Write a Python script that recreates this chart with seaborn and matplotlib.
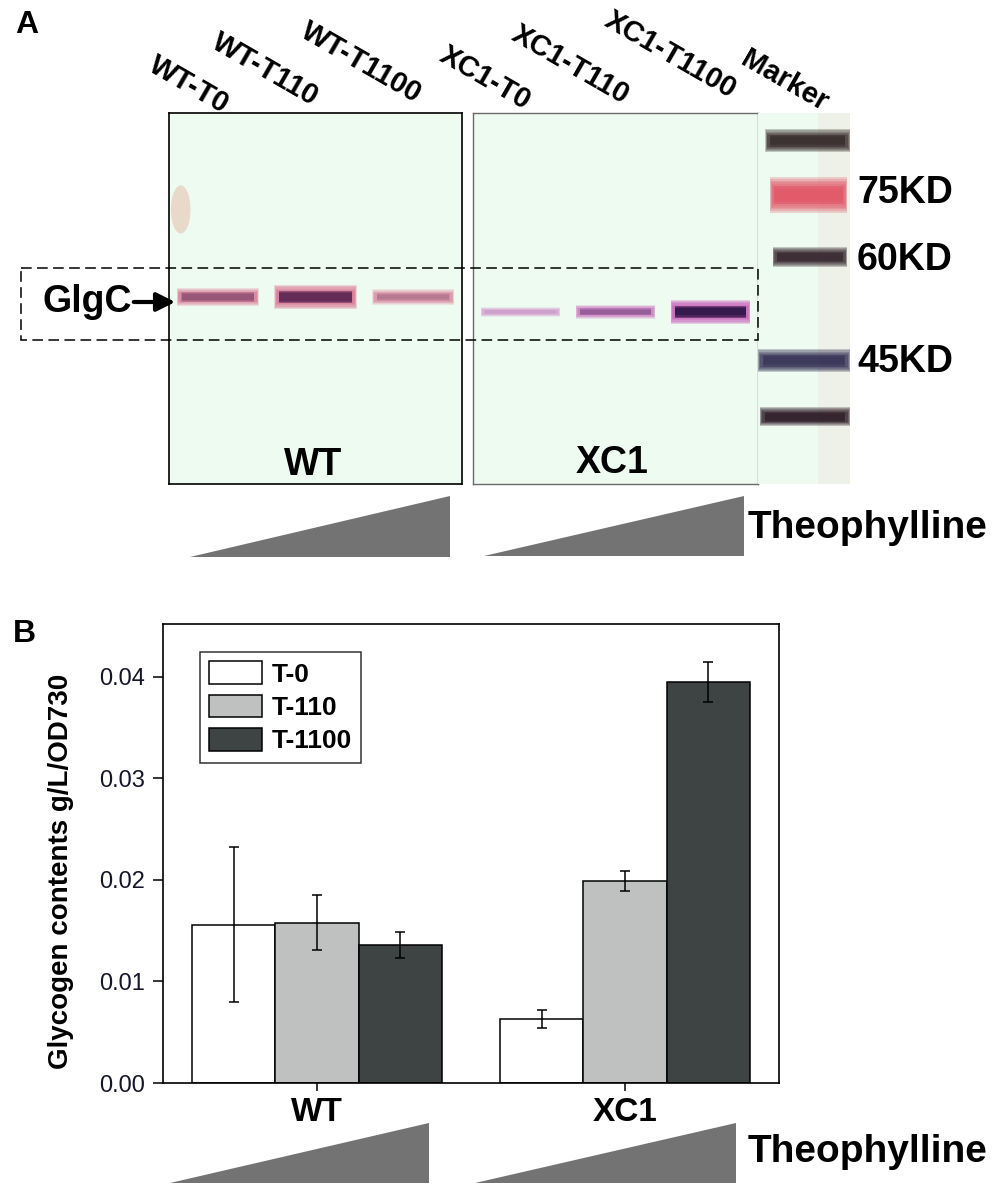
import numpy as np
import pandas as pd
import matplotlib
matplotlib.use("Agg")
import matplotlib.pyplot as plt
import seaborn as sns
from matplotlib.patches import Rectangle, Polygon, Patch, Ellipse
from matplotlib.container import BarContainer

# ---------------- data ----------------
groups = ["WT", "XC1"]
treatments = ["T-0", "T-110", "T-1100"]
wt_means = [0.0156, 0.0158, 0.0136]
wt_errs = [0.0076, 0.0027, 0.0013]
xc1_means = [0.0063, 0.0199, 0.0395]
xc1_errs = [0.0009, 0.0010, 0.0020]
y_ticks = [0.00, 0.01, 0.02, 0.03, 0.04]

wt_lane_labels = ["WT-T0", "WT-T110", "WT-T1100"]
xc1_lane_labels = ["XC1-T0", "XC1-T110", "XC1-T1100"]
wt_glgc_signal = [0.55, 1.0, 0.35]
xc1_glgc_signal = [0.12, 0.40, 1.0]
glgc_migration = {"WT": 0.496, "XC1": 0.536}
marker_labels = ["", "75KD", "60KD", "45KD", ""]
marker_migration = [0.075, 0.221, 0.388, 0.668, 0.819]

# ---------------- style ----------------
sns.set_theme(style="white")
plt.rcParams["font.family"] = ["Liberation Sans", "DejaVu Sans"]
for key in ["text.color", "axes.labelcolor", "xtick.color", "ytick.color"]:
    plt.rcParams[key] = "black"
bar_colors = ["#ffffff", "#bfc1c1", "#3e4343"]
W, H = 1000, 1194
fig = plt.figure(figsize=(W / 100, H / 100), dpi=100)


def rect(x0, y0, x1, y1):
    return [x0 / W, 1 - y1 / H, (x1 - x0) / W, (y1 - y0) / H]


# ---------------- panel B: bar chart ----------------
df = pd.DataFrame({
    "group": np.repeat(groups, len(treatments)),
    "treatment": treatments * len(groups),
    "value": wt_means + xc1_means,
    "err": wt_errs + xc1_errs,
})

axb = fig.add_axes(rect(163, 624, 779, 1083))
sns.barplot(data=df, x="group", y="value", hue="treatment", order=groups,
            hue_order=treatments, palette=dict(zip(treatments, bar_colors)),
            width=0.81, errorbar=None, edgecolor="black", linewidth=1.1,
            saturation=1, legend=False, ax=axb)

bw = 0.81 / len(treatments)
bars = [b for c in list(axb.containers) if isinstance(c, BarContainer) for b in c]
for bar in bars:
    cx = bar.get_x() + bar.get_width() / 2
    gi = int(round(cx))
    ti = int(round((cx - gi) / bw)) + 1
    row = df[(df.group == groups[gi]) & (df.treatment == treatments[ti])].iloc[0]
    axb.errorbar(cx, row.value, yerr=row.err, fmt="none", ecolor="black",
                 elinewidth=1.1, capsize=3.3, capthick=1.1, zorder=5)

axb.set_xlim(-0.5, 1.5)
axb.set_ylim(0, 0.0452)
axb.set_yticks(y_ticks)
axb.set_yticklabels([f"{v:.2f}" for v in y_ticks], fontsize=17, color="#15152a")
axb.set_xticks(range(len(groups)))
axb.set_xticklabels(groups, fontsize=24, fontweight="bold")
axb.set_xlabel("")
axb.set_ylabel("Glycogen contents g/L/OD730", fontsize=20, fontweight="bold")
axb.yaxis.set_label_coords(-0.1445, 0.462)
axb.tick_params(axis="y", direction="out", length=7, width=1.1, pad=6, left=True)
axb.tick_params(axis="x", direction="out", length=6, width=1.1, pad=4, bottom=True)
for sp in axb.spines.values():
    sp.set_visible(True)
    sp.set_color("black")
    sp.set_linewidth(1.2)

handles = [Patch(facecolor=c, edgecolor="black", linewidth=1.1) for c in bar_colors]
leg = axb.legend(handles, treatments, loc="upper left",
                 bbox_to_anchor=(200 / W, 1 - 652 / H), bbox_transform=fig.transFigure,
                 borderaxespad=0, frameon=True, fancybox=False, edgecolor="black",
                 prop=dict(weight="bold", size=19), handlelength=2.0,
                 handleheight=0.95, handletextpad=0.35, labelspacing=0.3,
                 borderpad=0.35)
leg.get_frame().set_linewidth(1.1)

# ---------------- panel A: blot ----------------
blot_bg = "#eefbf1"
ax_wt = fig.add_axes(rect(169, 113, 462, 484))
ax_xc = fig.add_axes(rect(473, 113, 758, 484))
ax_mk = fig.add_axes(rect(758, 113, 850, 484))
for ax in (ax_wt, ax_xc, ax_mk):
    ax.set_facecolor(blot_bg)
    ax.set_xticks([])
    ax.set_yticks([])
    ax.set_ylim(1, 0)
ax_wt.set_xlim(-0.5, 2.5)
ax_xc.set_xlim(-0.5, 2.5)
ax_mk.set_xlim(0, 1)
for sp in ax_wt.spines.values():
    sp.set_color("black"); sp.set_linewidth(1.2); sp.set_visible(True)
for sp in ax_xc.spines.values():
    sp.set_color("#6a6a6a"); sp.set_linewidth(1.0); sp.set_visible(True)
for sp in ax_mk.spines.values():
    sp.set_visible(False)


def draw_band(ax, xc, y, w, h, halo, core, s):
    a_halo = min(1.0, 0.25 + s)
    for k in [1.0, 0.9, 0.8, 0.7, 0.6, 0.5]:
        ww = w * (0.9 + 0.1 * k)
        ax.add_patch(Rectangle((xc - ww / 2, y - h * k / 2), ww, h * k,
                               facecolor=halo, alpha=0.26 * a_halo, lw=0))
    for k in [0.5, 0.4, 0.3]:
        ww = w * (0.86 + 0.06 * k)
        ax.add_patch(Rectangle((xc - ww / 2, y - h * k / 2), ww, h * k,
                               facecolor=core, alpha=0.5 * s ** 1.5, lw=0))


# faint smudge on WT membrane (top-left)
ax_wt.add_patch(Ellipse((-0.38, 0.26), 0.2, 0.13, facecolor="#e0a890", alpha=0.4, lw=0))

for i, s in enumerate(wt_glgc_signal):
    draw_band(ax_wt, i, glgc_migration["WT"], 0.84, 0.03 + 0.035 * s,
              "#d8698a", "#55224f", s)
for i, s in enumerate(xc1_glgc_signal):
    draw_band(ax_xc, i, glgc_migration["XC1"], 0.84, 0.02 + 0.045 * s,
              "#c452b4", "#24103f", s)

ax_mk.add_patch(Rectangle((0.65, 0), 0.35, 1, facecolor="#f0ddd0", alpha=0.3, lw=0))
marker_colors = ["#3b2f2f", "#e2596a", "#3b2c33", "#3b375a", "#33222c"]
marker_heights = [0.062, 0.097, 0.054, 0.062, 0.051]
marker_x = [(0.08, 1.0), (0.13, 0.97), (0.16, 0.97), (0.0, 1.0), (0.02, 1.0)]
for mig, col, hh, (x0, x1) in zip(marker_migration, marker_colors, marker_heights, marker_x):
    draw_band(ax_mk, (x0 + x1) / 2, mig, x1 - x0, hh, col, col, 1.0)

# ---------------- overlay: annotations ----------------
ov = fig.add_axes([0, 0, 1, 1])
ov.set_xlim(0, W)
ov.set_ylim(H, 0)
ov.axis("off")
ov.patch.set_alpha(0)

ov.add_patch(Rectangle((21, 268), 737, 72, fill=False, ec="black", lw=1.1,
                       ls=(0, (7, 3.5))))
ov.text(42, 312, "GlgC", fontsize=27, fontweight="bold", ha="left", va="baseline")
ov.annotate("", xy=(178, 302), xytext=(131, 302),
            arrowprops=dict(arrowstyle="-|>", lw=3, color="black", mutation_scale=28))

ov.text(15, 33, "A", fontsize=23, fontweight="bold", ha="left", va="baseline")
ov.text(13, 642, "B", fontsize=23, fontweight="bold", ha="left", va="baseline")

lane_label_xy = [(189, 85), (265, 70), (361, 63), (485, 78), (570, 65), (670, 55), (784, 81)]
for lab, (x, y) in zip(wt_lane_labels + xc1_lane_labels + ["Marker"], lane_label_xy):
    ov.text(x, y, lab, fontsize=21, fontweight="bold", rotation=-30,
            rotation_mode="anchor", ha="center", va="center")

ov.text(313, 475, "WT", fontsize=27, fontweight="bold", ha="center", va="baseline")
ov.text(612, 473, "XC1", fontsize=27, fontweight="bold", ha="center", va="baseline")

kd_baselines = [None, 203, 270, 372, None]
for lab, yb in zip(marker_labels, kd_baselines):
    if lab:
        ov.text(857, yb, lab, fontsize=27, fontweight="bold", ha="left", va="baseline")

wedge_color = "#737373"
for (x0, x1, ytop, ybot) in [(190, 450, 496, 557), (484, 744, 496, 556),
                             (170, 429, 1123, 1183), (475, 736, 1123, 1183)]:
    ov.add_patch(Polygon([(x0, ybot), (x1, ybot), (x1, ytop)], closed=True,
                         facecolor=wedge_color, edgecolor="none"))
ov.text(748, 528, "Theophylline", fontsize=28, fontweight="bold", ha="left", va="center")
ov.text(748, 1152, "Theophylline", fontsize=28, fontweight="bold", ha="left", va="center")

fig.savefig("out.png", dpi=100)
